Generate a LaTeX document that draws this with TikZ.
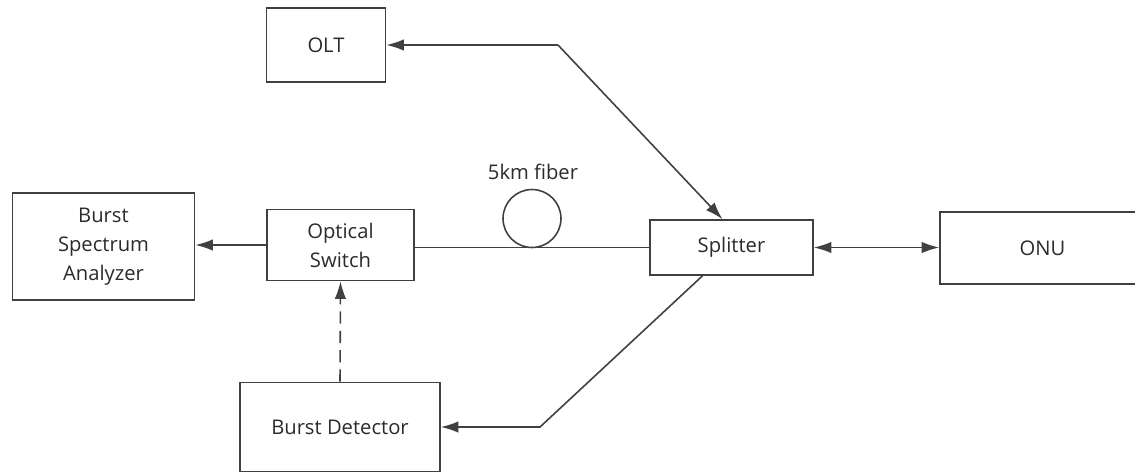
\documentclass[tikz,border=0pt]{standalone}
\usepackage{fontspec}
\setmainfont{Open Sans}
\usetikzlibrary{arrows.meta, positioning}
\definecolor{linegray}{HTML}{404040}
\definecolor{textgray}{HTML}{2B2B2B}
\tikzset{
	>={Latex[length=10pt,width=6.5pt]},
	block/.style={draw=linegray, line width=0.9pt, rectangle, align=center, inner sep=0pt, text=textgray, font=\fontsize{11.5}{16.5}\selectfont},
	link/.style={draw=linegray, line width=0.9pt}
}

\begin{document}
\begin{tikzpicture}[x=0.02cm, y=-0.02cm]
		\useasboundingbox (0,0) rectangle (1135,473);
		\node [block, minimum width=2.38cm, minimum height=1.48cm] (olt) at (326,45) {OLT};
		\node [block, minimum width=3.64cm, minimum height=2.14cm] (bsa) at (103.5,246.5) {Burst\\Spectrum\\Analyzer};
		\node [block, minimum width=2.94cm, minimum height=1.42cm] (osw) at (340.5,245) {Optical\\Switch};
		\node [block, minimum width=3.26cm, minimum height=1.10cm] (spl) at (731.5,247.5) {Splitter};
		\node [block, minimum width=4.10cm, minimum height=1.44cm] (onu) at (1042.5,248) {ONU};
		\node [block, minimum width=4.00cm, minimum height=1.78cm] (bd) at (340,427) {Burst Detector};
		\node [draw=linegray, line width=0.9pt, circle, inner sep=0pt, minimum size=1.16cm] (coil) at (532,218.5) {};
		\node [text=textgray, font=\fontsize{11.5}{16.5}\selectfont] (coillbl) at (533,172) {5km fiber};
		\coordinate (oltbend) at (558,45);
		\coordinate (bdbend) at (540,427);
		% connections
		\draw [link] (spl.west) -- (spl.west -| osw.east);
		\draw [link, ->] (osw.west) -- (bsa.east |- osw.west);
		\draw [link, <->] (spl.east) -- (onu.west |- spl.east);
		\draw [link, ->] (oltbend) -- (olt.east);
		\draw [link, ->] (oltbend) -- ([xshift=-0.18cm]spl.north);
		\draw [link, ->] ([xshift=-0.58cm]spl.south) -- (bdbend) -- (bd.east);
		\draw [link, ->, dashed, dash pattern=on 7pt off 4pt] (bd.north) -- (osw.south);
	\end{tikzpicture}
\end{document}
